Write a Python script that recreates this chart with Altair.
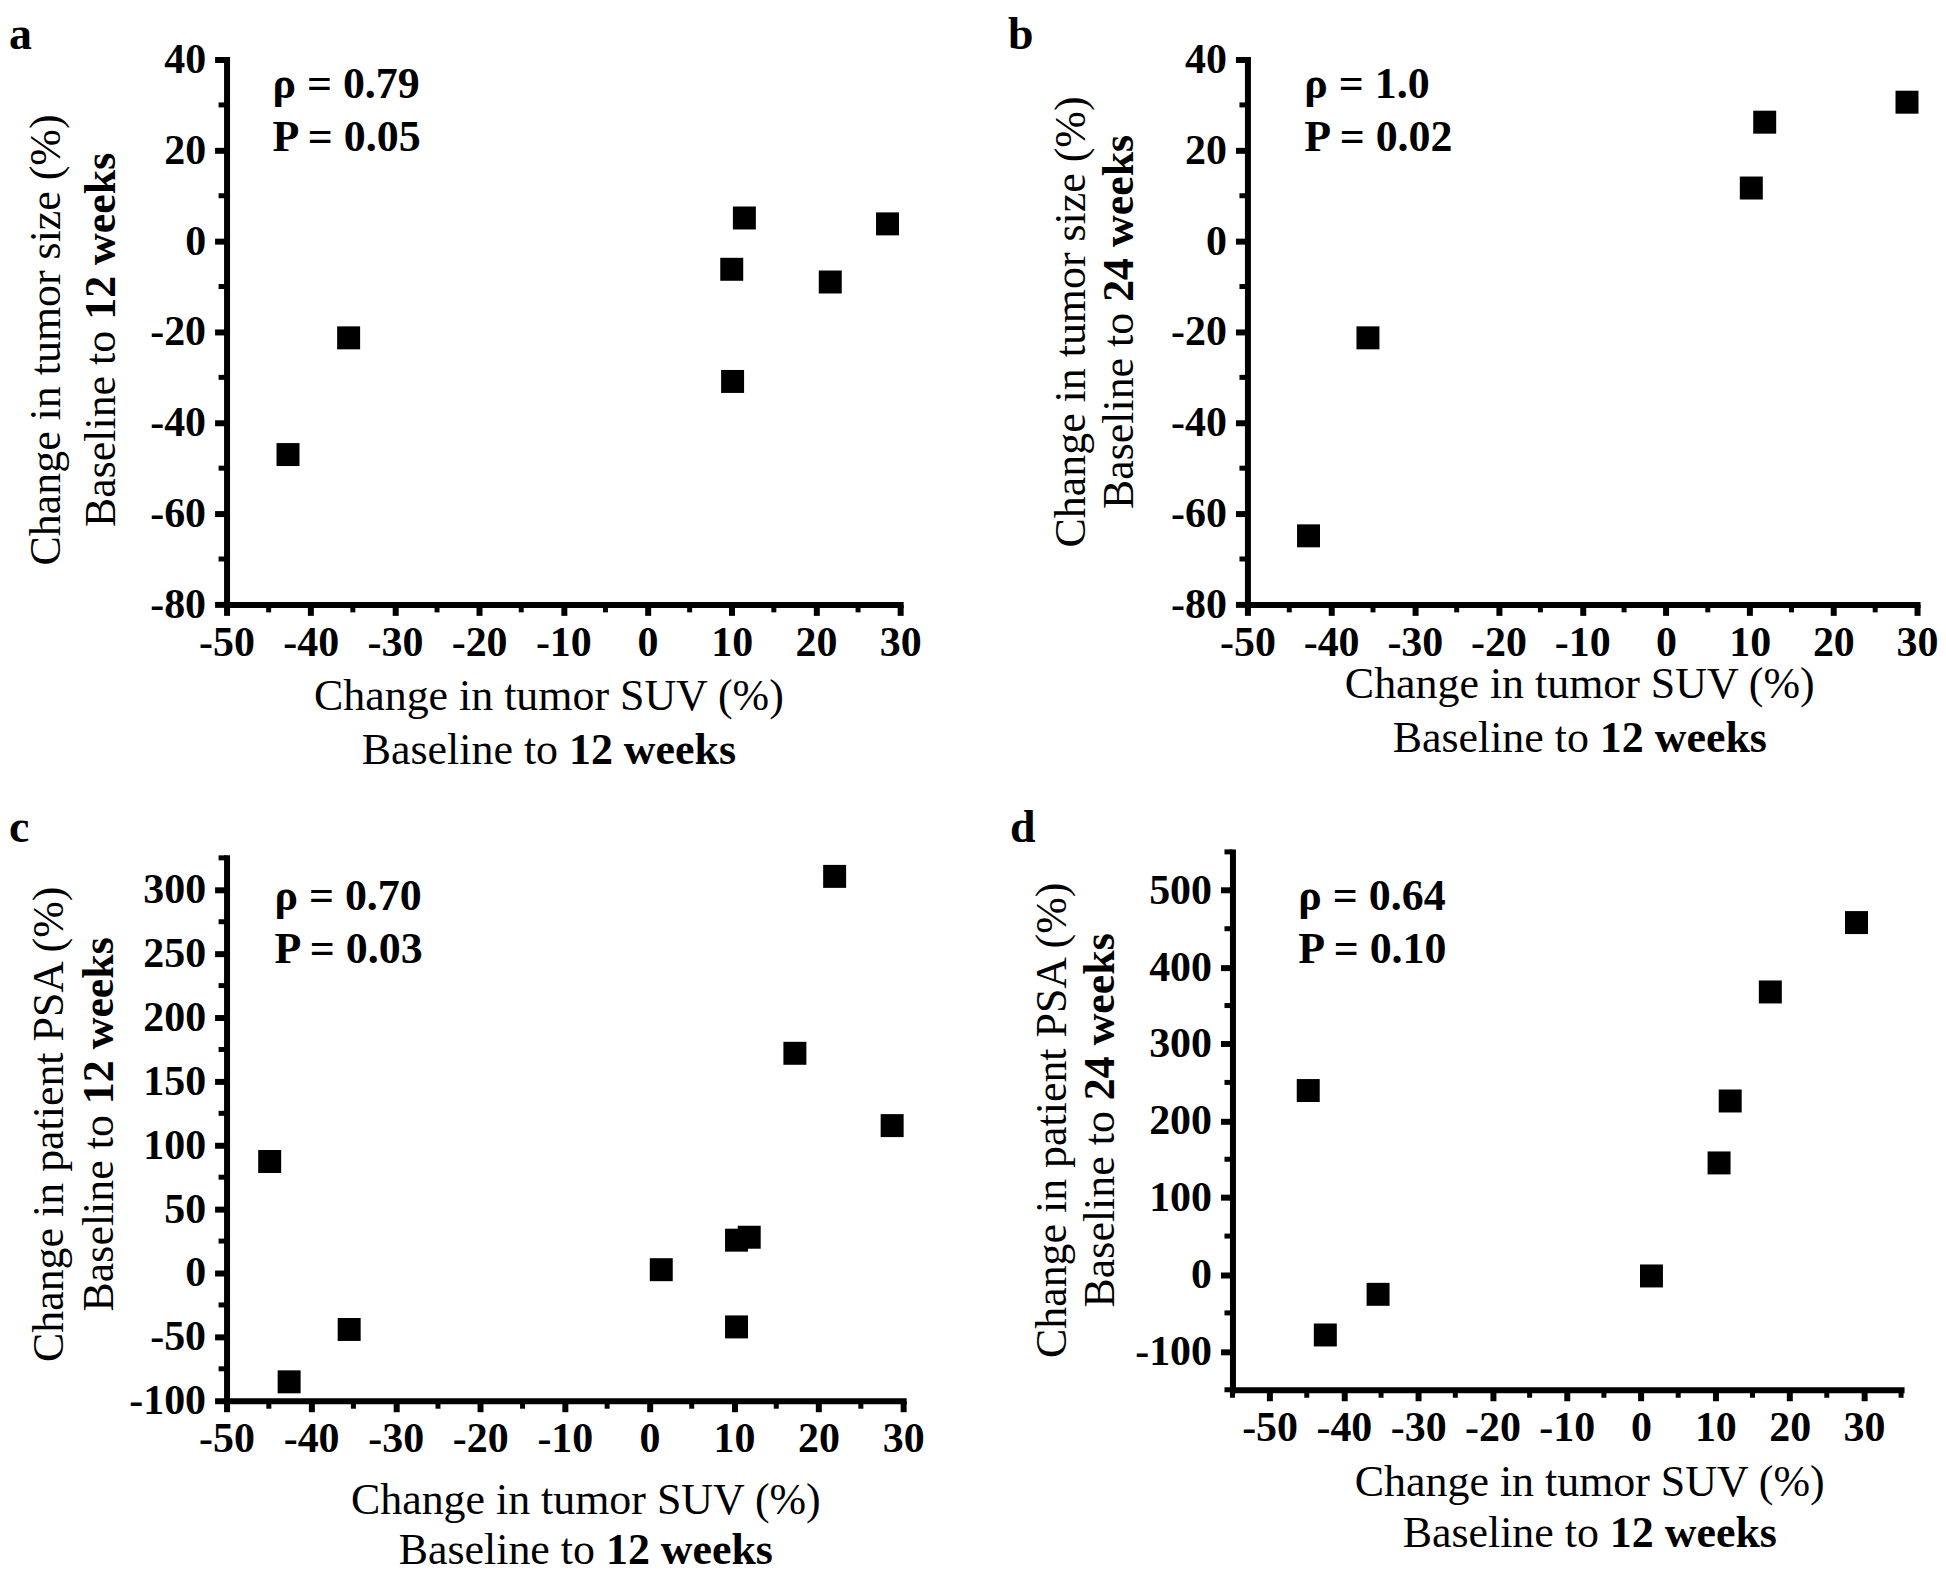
import altair as alt
import pandas as pd

FONT = "Liberation Serif"

# ---------------- data ----------------
a_suv = [-42.7, -35.5, 10.0, 11.5, 10.1, 21.7, 28.5]
a_size = [-47.0, -21.3, -6.2, 5.1, -30.9, -9.0, 3.8]

b_suv = [-42.7, -35.6, 10.2, 11.8, 28.8]
b_size = [-64.9, -21.3, 11.7, 26.2, 30.6]

c_suv = [-44.9, -42.6, -35.5, 1.4, 10.3, 11.8, 10.3, 17.2, 21.9, 28.7]
c_psa = [87.3, -85.2, -44.2, 2.6, 25.7, 28.0, -42.2, 172.0, 310.5, 115.4]

d_suv = [-44.8, -42.5, -35.4, 1.4, 10.5, 12.0, 17.4, 29.0]
d_psa = [239.4, -78.7, -25.8, -1.9, 145.2, 225.8, 367.7, 458.0]

# ticks
x_major = [-50, -40, -30, -20, -10, 0, 10, 20, 30]
x_minor = [-45, -35, -25, -15, -5, 5, 15, 25]
x_minor_d = [-55, -45, -35, -25, -15, -5, 5, 15, 25, 35]
size_major = [-80, -60, -40, -20, 0, 20, 40]
size_minor = [-70, -50, -30, -10, 10, 30]
psa12_major = [-100, -50, 0, 50, 100, 150, 200, 250, 300]
psa12_minor = [-75, -25, 25, 75, 125, 175, 225, 275, 325]
psa24_major = [-100, 0, 100, 200, 300, 400, 500]
psa24_minor = [-150, -50, 50, 150, 250, 350, 450, 550]

# texts
labels = ["a", "b", "c", "d"]
rho_txt = ["ρ = 0.79", "ρ = 1.0", "ρ = 0.70", "ρ = 0.64"]
p_txt = ["P = 0.05", "P = 0.02", "P = 0.03", "P = 0.10"]
ytitle1 = ["Change in tumor size (%)", "Change in tumor size (%)",
           "Change in patient PSA (%)", "Change in patient PSA (%)"]
ytitle2_bold = ["12 weeks", "24 weeks", "12 weeks", "24 weeks"]
xtitle1 = "Change in tumor SUV (%)"
xtitle2_bold = "12 weeks"
title2_reg = "Baseline to"

# ---------------- layout (page pixels) ----------------
LAYOUT = {
    "a": dict(org=(227, 58), W=675, H=546, xr=(0, 675), yr=(546, 0), off=0,
              xdom=[-50, 30], ydom=[-80, 40],
              lab=(9, 11), rho=(273, 97, 150), xt_c=550, xt_b=(710, 764),
              yt_c=339, yt_x=(60, 115)),
    "b": dict(org=(1235, 58), W=686, H=546, xr=(15, 686), yr=(546, 0), off=-15,
              xdom=[-50, 30], ydom=[-80, 40],
              lab=(1010, 11), rho=(1307, 97, 150), xt_c=1583, xt_b=(698, 752),
              yt_c=321, yt_x=(1087, 1135)),
    "c": dict(org=(227, 852), W=678, H=550, xr=(0, 678), yr=(550, 6), off=0,
              xdom=[-50, 30], ydom=[-100, 325],
              lab=(9, 806), rho=(275, 910, 963), xt_c=587, xt_b=(1515, 1566),
              yt_c=1125, yt_x=(63, 113)),
    "d": dict(org=(1235, 852), W=670, H=539, xr=(0, 670), yr=(539, 0), off=0,
              xdom=[-55, 35], ydom=[-150, 550],
              lab=(1012, 806), rho=(1301, 910, 963), xt_c=1593, xt_b=(1497, 1549),
              yt_c=1121, yt_x=(1068, 1116)),
}
COL_SPACING = 1235 - 227 - 678
ROW_SPACING = 852 - 58 - 546

FS = 44
FS_TICK = 42
FS_LAB = 46

REG = {' ': 250, '(': 333, ')': 333, '%': 833, 'A': 722, 'B': 667, 'C': 667,
       'P': 556, 'S': 556, 'U': 722, 'V': 722, 'a': 444, 'e': 444, 'g': 500,
       'h': 500, 'i': 278, 'l': 278, 'm': 778, 'n': 500, 'o': 500, 'p': 500,
       'r': 333, 's': 389, 't': 278, 'u': 500, 'z': 444}
BOLD = {' ': 250, '1': 500, '2': 500, '4': 500, 'w': 722, 'e': 444, 'k': 556, 's': 389}


def tw(s, table):
    return sum(table.get(ch, 500) for ch in s) / 1000.0 * FS


def txt(t, x, y, weight="normal", align="left", baseline="alphabetic", angle=0, size=FS):
    return alt.Chart(pd.DataFrame({"t": [t]})).mark_text(
        font=FONT, fontSize=size, fontWeight=weight, align=align,
        baseline=baseline, angle=angle, color="black"
    ).encode(x=alt.value(x), y=alt.value(y), text="t:N")


def make_axis(values, tick_size, pad, offset=0):
    return alt.Axis(values=values, title=None, grid=False, domainColor="black",
                    domainWidth=6, domainCap="square", tickColor="black", tickWidth=6,
                    tickSize=tick_size, labelFont=FONT, labelFontSize=FS_TICK,
                    labelFontWeight="bold", labelColor="black", labelPadding=pad,
                    labelExpr="toString(datum.value)", labelFlush=False,
                    labelOverlap=False, offset=offset)


def panel(i, xs, ys, xmaj, xmin, ymaj, ymin):
    key = labels[i]
    L = LAYOUT[key]
    ox, oy = L["org"]
    W, H = L["W"], L["H"]
    xscale = alt.Scale(domain=L["xdom"], range=list(L["xr"]), nice=False, zero=False)
    yscale = alt.Scale(domain=L["ydom"], range=list(L["yr"]), nice=False, zero=False)
    xaxis = make_axis(xmaj, 11, 7)
    yaxis = make_axis(ymaj, 12, 9, L["off"])
    x0 = L["xr"][0]
    yb = L["yr"][0]

    pts = alt.Chart(pd.DataFrame({"x": xs, "y": ys})).mark_square(
        size=530, color="black", opacity=1, filled=True
    ).encode(
        x=alt.X("x:Q", scale=xscale, axis=xaxis),
        y=alt.Y("y:Q", scale=yscale, axis=yaxis),
    )
    xm = alt.Chart(pd.DataFrame({"x": xmin})).mark_rule(color="black", strokeWidth=5).encode(
        x=alt.X("x:Q", scale=xscale, axis=xaxis), y=alt.value(yb), y2=alt.value(yb + 8))
    ym = alt.Chart(pd.DataFrame({"y": ymin})).mark_rule(color="black", strokeWidth=5).encode(
        y=alt.Y("y:Q", scale=yscale, axis=yaxis), x=alt.value(x0 - 8), x2=alt.value(x0))

    layers = [pts, xm, ym]
    R = lambda px: px - ox
    Rv = lambda py: py - oy

    # panel label
    layers.append(txt(key, R(L["lab"][0]), Rv(L["lab"][1]), weight="bold",
                      baseline="top", size=FS_LAB))
    # statistics
    rx, r1, r2 = L["rho"]
    layers.append(txt(rho_txt[i], R(rx), Rv(r1), weight="bold"))
    layers.append(txt(p_txt[i], R(rx), Rv(r2), weight="bold"))

    # x title
    b1, b2 = L["xt_b"]
    cx = L["xt_c"]
    layers.append(txt(xtitle1, R(cx), Rv(b1), align="center"))
    wA = tw(title2_reg, REG)
    wS = tw(" ", REG)
    wB = tw(xtitle2_bold, BOLD)
    start = cx - (wA + wS + wB) / 2
    layers.append(txt(title2_reg, R(start + wA), Rv(b2), align="right"))
    layers.append(txt(xtitle2_bold, R(start + wA + wS), Rv(b2), weight="bold", align="left"))

    # y title (rotated)
    yx1, yx2 = L["yt_x"]
    cy = L["yt_c"]
    layers.append(txt(ytitle1[i], R(yx1), Rv(cy), align="center", angle=270))
    wB = tw(ytitle2_bold[i], BOLD)
    bottom = cy + (wA + wS + wB) / 2
    layers.append(txt(title2_reg, R(yx2), Rv(bottom - wA), align="right", angle=270))
    layers.append(txt(ytitle2_bold[i], R(yx2), Rv(bottom - wA - wS), weight="bold",
                      align="left", angle=270))

    if key == "a":
        anchor = alt.Chart(pd.DataFrame({"t": [0]})).mark_rule(opacity=0, strokeWidth=0).encode(
            x=alt.value(8 - ox), x2=alt.value(8 - ox), y=alt.value(8 - oy), y2=alt.value(8 - oy))
        layers.append(anchor)

    return alt.layer(*layers).properties(width=W, height=H)


pa = panel(0, a_suv, a_size, x_major, x_minor, size_major, size_minor)
pb = panel(1, b_suv, b_size, x_major, x_minor, size_major, size_minor)
pc = panel(2, c_suv, c_psa, x_major, x_minor, psa12_major, psa12_minor)
pd_ = panel(3, d_suv, d_psa, x_major, x_minor_d, psa24_major, psa24_minor)

chart = alt.concat(
    pa, pb, pc, pd_, columns=2, bounds="flush",
    spacing={"row": ROW_SPACING, "column": COL_SPACING},
).properties(padding=0, background="white").configure_view(stroke=None)

chart.save("out.html", embed_options={"renderer": "svg", "actions": False})
